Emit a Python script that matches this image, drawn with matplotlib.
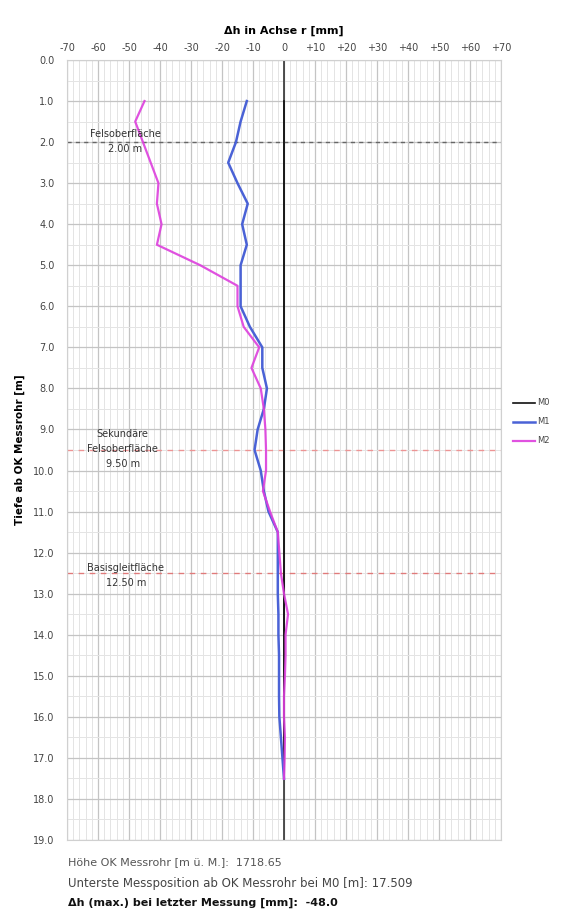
import matplotlib
matplotlib.use("Agg")
import matplotlib.pyplot as plt
import numpy as np

plt.rcParams['font.family'] = ['DejaVu Sans']

depth = [1.0, 1.5, 2.0, 2.5, 3.0, 3.5, 4.0, 4.5, 5.0, 5.5, 6.0, 6.5, 7.0, 7.5, 8.0, 8.5,
         9.0, 9.5, 10.0, 10.5, 11.0, 11.5, 12.0, 12.5, 13.0, 13.5, 14.0, 14.5, 15.0,
         15.5, 16.0, 16.5, 17.0, 17.509]
m0 = [0.0] * len(depth)
m1 = [-12.0, -14.0, -15.5, -18.0, -15.0, -11.7, -13.5, -12.0, -14.0, -14.0, -14.0, -11.0,
      -7.0, -7.0, -5.5, -6.5, -8.5, -9.5, -7.5, -6.5, -5.0, -2.0, -2.0, -2.0, -2.0, -1.8,
      -1.8, -1.6, -1.6, -1.6, -1.5, -1.0, -0.5, 0.0]
m2 = [-45.0, -48.0, -45.5, -43.0, -40.5, -41.0, -39.5, -41.0, -27.0, -15.0, -15.0, -13.0,
      -8.0, -10.5, -7.5, -6.5, -6.0, -5.8, -5.8, -6.8, -4.5, -2.0, -1.5, -1.0, 0.0, 1.3,
      0.5, 0.5, 0.3, 0.0, 0.0, 0.3, 0.2, 0.0]

x_ticks = list(range(-70, 71, 10))
x_tick_labels = ["-70", "-60", "-50", "-40", "-30", "-20", "-10", "0", "+10", "+20", "+30",
                 "+40", "+50", "+60", "+70"]
y_ticks = list(range(0, 20))
y_tick_labels = [f"{v:.1f}" for v in y_ticks]

markers_depth = [2.0, 9.5, 12.5]
markers_text = ["Felsoberfläche\n2.00 m", "Sekundäre\nFelsoberfläche\n9.50 m",
                "Basisgleitfläche\n12.50 m"]

fig = plt.figure(figsize=(5.74, 9.13), dpi=100)
ax = fig.add_axes([67/574, 1 - 840/913, (501-67)/574, (840-60)/913])

ax.set_xlim(-70, 70)
ax.set_ylim(19, 0)

ax.set_xticks(np.arange(-70, 71, 2), minor=True)
ax.set_yticks(np.arange(0, 19.01, 0.5), minor=True)
ax.set_xticks(x_ticks)
ax.set_xticklabels(x_tick_labels)
ax.set_yticks(y_ticks)
ax.set_yticklabels(y_tick_labels)
ax.grid(which='major', color='#c4c4c4', linewidth=0.9)
ax.grid(which='minor', color='#e4e4e4', linewidth=0.7)
ax.set_axisbelow(True)

ax.xaxis.tick_top()
ax.xaxis.set_label_position('top')
ax.tick_params(axis='both', which='both', length=0, labelsize=7, colors='#444444')
ax.tick_params(axis='x', pad=5)
ax.tick_params(axis='y', pad=9)
for s in ax.spines.values():
    s.set_color('#d0d0d0')
    s.set_linewidth(0.8)

ax.set_xlabel("Δh in Achse r [mm]", fontsize=8, fontweight='bold', labelpad=7)
ax.set_ylabel("Tiefe ab OK Messrohr [m]", fontsize=7.5, fontweight='bold', labelpad=6)

ax.axvline(0, color='#333333', linewidth=1.2, zorder=2)

# marker lines
ax.axhline(markers_depth[0], color='#666666', linestyle=(0, (3, 3)), linewidth=1.0, zorder=2)
ax.axhline(markers_depth[1], color='#f08080', linestyle=(0, (4, 4)), linewidth=1.0, zorder=2, alpha=0.8)
ax.axhline(markers_depth[2], color='#e06060', linestyle=(0, (4, 4)), linewidth=1.0, zorder=2, alpha=0.8)

ax.text(-51.3, 1.98, markers_text[0], ha='center', va='center', fontsize=7, color='#333333',
        linespacing=1.6, zorder=4)
ax.text(-52, 9.47, markers_text[1], ha='center', va='center', fontsize=7, color='#333333',
        linespacing=1.6, zorder=4)
ax.text(-51, 12.55, markers_text[2], ha='center', va='center', fontsize=7, color='#333333',
        linespacing=1.6, zorder=4)

ax.plot(m0, depth, color='#111111', linewidth=1.2, label='M0', zorder=3)
ax.plot(m1, depth, color='#4a62d6', linewidth=1.8, label='M1', zorder=3)
ax.plot(m2, depth, color='#dd3fdd', linewidth=1.6, label='M2', zorder=3, alpha=0.9)

leg = ax.legend(loc='center left', bbox_to_anchor=(1.01, 0.536), frameon=False, fontsize=6,
                handlelength=2.6, handletextpad=0.3, labelspacing=1.2)
for t in leg.get_texts():
    t.set_color('#444444')

fig.text(68/574, 1 - 862/913, "Höhe OK Messrohr [m ü. M.]:  1718.65", fontsize=8,
         color='#555555', va='center')
fig.text(68/574, 1 - 883/913, "Unterste Messposition ab OK Messrohr bei M0 [m]: 17.509",
         fontsize=8.5, color='#444444', va='center')
fig.text(68/574, 1 - 903/913, "Δh (max.) bei letzter Messung [mm]:  -48.0", fontsize=8,
         color='#111111', fontweight='bold', va='center')

fig.savefig("out.png", dpi=100)
